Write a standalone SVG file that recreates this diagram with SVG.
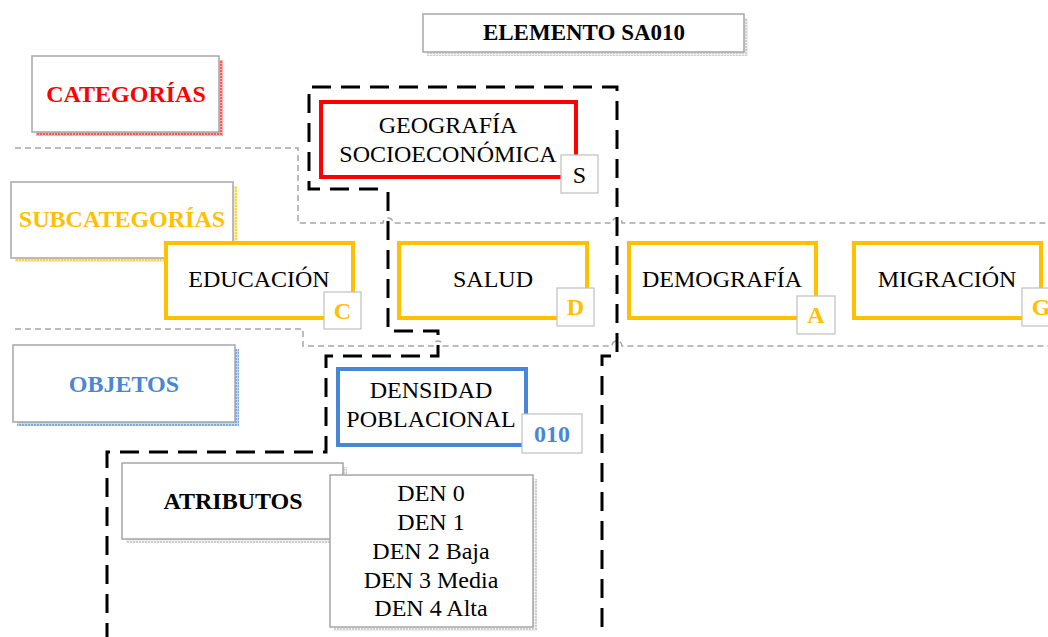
<svg xmlns="http://www.w3.org/2000/svg" width="1048" height="637" viewBox="0 0 1048 637">
<defs>
<pattern id="pRed" width="3" height="3" patternUnits="userSpaceOnUse"><rect width="3" height="3" fill="#FF5A5A"/><path d="M0 0.5H3M0.5 0V3" stroke="#FFB0B0" stroke-width="1"/></pattern>
<pattern id="pYel" width="3" height="3" patternUnits="userSpaceOnUse"><rect width="3" height="3" fill="#FFD24D"/><path d="M0 0.5H3M0.5 0V3" stroke="#FFEBA8" stroke-width="1"/></pattern>
<pattern id="pBlue" width="3" height="3" patternUnits="userSpaceOnUse"><rect width="3" height="3" fill="#7FA8E0"/><path d="M0 0.5H3M0.5 0V3" stroke="#C5D8F2" stroke-width="1"/></pattern>
<pattern id="pGray" width="3" height="3" patternUnits="userSpaceOnUse"><rect width="3" height="3" fill="#CFCFCF"/><path d="M0 0.5H3M0.5 0V3" stroke="#EEEEEE" stroke-width="1"/></pattern>
</defs>
<style>
text{font-family:"Liberation Serif","Times New Roman",serif;font-size:24px;text-anchor:middle;fill:#000}
.b{font-weight:bold}
.lbl{fill:#fff;stroke:#A6A6A6;stroke-width:1.5}
.badge{fill:#fff;stroke:#BFBFBF;stroke-width:1.2}
.red{fill:none;stroke:#FF0000;stroke-width:4}
.yel{fill:#fff;stroke:#FFC000;stroke-width:4}
.blu{fill:#fff;stroke:#4A86D6;stroke-width:4}
.ty{fill:#FFC000}
.tb{fill:#4A86D6}
.sep{fill:none;stroke:#A6A6A6;stroke-width:1.5;stroke-dasharray:6 4}
.dash{fill:none;stroke:#000;stroke-width:3;stroke-dasharray:19 10}
</style>
<rect width="1048" height="637" fill="#fff"/>
<g id="connectors">
<path class="sep" d="M15,148 H298 V223 H383 A5,5 0 0 1 393,223 H612 A5,5 0 0 1 622,223 H1048"/>
<path class="sep" d="M15,329 H303 V346 H433 A5,5 0 0 1 443,346 H612 A5,5 0 0 1 622,346 H1048"/>
<path class="dash" d="M378,189 H309 V87 H617 V356 H602 V637"/>
<path class="dash" d="M388,192 V331 H438 V356 H326 V452 H107 V637"/>
</g>
<g id="elemento">
<rect x="427" y="18" width="321" height="38" fill="url(#pGray)"/>
<rect class="lbl" x="423" y="14" width="321" height="38"/>
<text class="b" x="584" y="40" style="font-size:23px">ELEMENTO SA010</text>
</g>
<g id="categorias">
<rect x="36" y="60" width="187" height="76" fill="url(#pRed)"/>
<rect class="lbl" x="32" y="56" width="187" height="76"/>
<text class="b" x="126" y="102" style="fill:#FF0000">CATEGORÍAS</text>
</g>
<g id="subcategorias">
<rect x="15" y="186" width="222" height="76" fill="url(#pYel)"/>
<rect class="lbl" x="11" y="182" width="222" height="76"/>
<text class="b ty" x="122" y="227">SUBCATEGORÍAS</text>
</g>
<g id="objetos">
<rect x="17" y="349" width="222" height="77" fill="url(#pBlue)"/>
<rect class="lbl" x="13" y="345" width="222" height="77"/>
<text class="b tb" x="124" y="392">OBJETOS</text>
</g>
<g id="atributos">
<rect x="126" y="467" width="221" height="76" fill="url(#pGray)"/>
<rect class="lbl" x="122" y="463" width="221" height="76"/>
<text class="b" x="233" y="509">ATRIBUTOS</text>
</g>
<g id="valores">
<rect x="334" y="479" width="203" height="152" fill="url(#pGray)"/>
<rect class="lbl" x="330" y="475" width="203" height="152"/>
<text x="431" y="501">DEN 0</text>
<text x="431" y="530">DEN 1</text>
<text x="431" y="559">DEN 2 Baja</text>
<text x="431" y="588">DEN 3 Media</text>
<text x="431" y="616">DEN 4 Alta</text>
</g>
<g id="geografia">
<rect class="red" x="321" y="102" width="255" height="75" style="fill:#fff"/>
<text x="448" y="133">GEOGRAFÍA</text>
<text x="448" y="162">SOCIOECONÓMICA</text>
<rect class="badge" x="561" y="155" width="37" height="38"/>
<text x="579.5" y="183">S</text>
</g>
<g id="educacion">
<rect class="yel" x="166" y="243" width="187" height="75"/>
<text x="259" y="287">EDUCACIÓN</text>
<rect class="badge" x="324" y="292" width="37" height="37"/>
<text class="b ty" x="342.5" y="319">C</text>
</g>
<g id="salud">
<rect class="yel" x="399" y="243" width="188" height="75"/>
<text x="493" y="287">SALUD</text>
<rect class="badge" x="557" y="288" width="37" height="38"/>
<text class="b ty" x="575.5" y="315">D</text>
</g>
<g id="demografia">
<rect class="yel" x="629" y="243" width="187" height="75"/>
<text x="722" y="287">DEMOGRAFÍA</text>
<rect class="badge" x="797" y="296" width="38" height="38"/>
<text class="b ty" x="816" y="323">A</text>
</g>
<g id="migracion">
<rect class="yel" x="854" y="243" width="187" height="75"/>
<text x="947" y="287">MIGRACIÓN</text>
<rect class="badge" x="1022" y="288" width="38" height="38"/>
<text class="b ty" x="1041" y="315">G</text>
</g>
<g id="densidad">
<rect class="blu" x="338" y="369" width="188" height="76"/>
<text x="431" y="398">DENSIDAD</text>
<text x="431" y="427">POBLACIONAL</text>
<rect class="badge" x="522" y="414" width="60" height="39"/>
<text class="b tb" x="552" y="442">010</text>
</g>
</svg>
